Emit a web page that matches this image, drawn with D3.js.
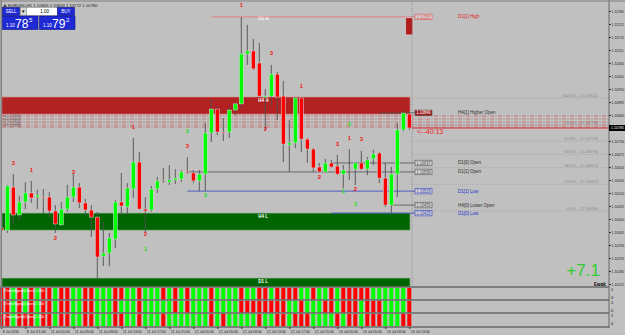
<!DOCTYPE html>
<html>
<head>
<meta charset="utf-8">
<script src="https://cdn.jsdelivr.net/npm/d3@7"></script>
<style>
  body { margin: 0; background: #c0c0c0; }
  svg { display: block; font-family: "Liberation Sans", Arial, sans-serif; }
</style>
</head>
<body>
<div class="chart"></div>
<script>
// EURUSD H1 bars, 8 Jul 17:00 .. 13 Jul 13:00
var opens = [1.10362,1.10353,1.10535,1.10417,1.10472,1.10510,1.10493,1.10493,1.10493,1.10434,
  1.10375,1.10442,1.10493,1.10535,1.10468,1.10438,1.10408,1.10243,1.10256,1.10315,
  1.10472,1.10451,1.10527,1.10641,1.10442,1.10438,1.10527,1.10561,1.10556,1.10565,
  1.10569,1.10599,1.10595,1.10561,1.10590,1.10764,1.10865,1.10768,1.10768,1.10861,
  1.10887,1.11098,1.11111,1.11060,1.10916,1.10920,1.11013,1.10920,1.10713,1.10722,
  1.10912,1.10738,1.10696,1.10620,1.10599,1.10637,1.10624,1.10590,1.10611,1.10611,
  1.10637,1.10611,1.10654,1.10679,1.10573,1.10459,1.10590,1.10777,1.10844];
var highs = [1.10468,1.10544,1.10590,1.10497,1.10556,1.10561,1.10523,1.10527,1.10514,1.10459,
  1.10472,1.10544,1.10590,1.10552,1.10485,1.10459,1.10430,1.10387,1.10341,1.10480,
  1.10595,1.10552,1.10743,1.10683,1.10493,1.10540,1.10578,1.10616,1.10628,1.10611,
  1.10607,1.10662,1.10607,1.10607,1.10806,1.10908,1.10874,1.10827,1.10874,1.10895,
  1.11255,1.11221,1.11162,1.11145,1.10950,1.11052,1.11022,1.10984,1.10819,1.10916,
  1.10916,1.10743,1.10700,1.10637,1.10654,1.10650,1.10671,1.10628,1.10696,1.10641,
  1.10688,1.10662,1.10692,1.10683,1.10637,1.10620,1.10806,1.10861,1.10848];
var lows = [1.10298,1.10341,1.10383,1.10391,1.10442,1.10468,1.10442,1.10421,1.10408,1.10341,
  1.10366,1.10430,1.10472,1.10446,1.10417,1.10324,1.10146,1.10201,1.10201,1.10277,
  1.10417,1.10417,1.10489,1.10438,1.10341,1.10430,1.10510,1.10552,1.10544,1.10548,
  1.10556,1.10590,1.10552,1.10518,1.10518,1.10726,1.10755,1.10730,1.10743,1.10840,
  1.10870,1.11052,1.11030,1.10916,1.10777,1.10882,1.10819,1.10641,1.10599,1.10700,
  1.10683,1.10637,1.10599,1.10595,1.10595,1.10616,1.10586,1.10531,1.10565,1.10544,
  1.10607,1.10586,1.10628,1.10552,1.10451,1.10425,1.10493,1.10772,1.10777];
var closes = [1.10353,1.10540,1.10417,1.10472,1.10510,1.10489,1.10501,1.10489,1.10434,1.10379,
  1.10442,1.10493,1.10535,1.10468,1.10438,1.10408,1.10239,1.10256,1.10320,1.10472,
  1.10455,1.10531,1.10641,1.10442,1.10434,1.10527,1.10561,1.10560,1.10565,1.10573,
  1.10599,1.10595,1.10561,1.10590,1.10764,1.10865,1.10768,1.10764,1.10861,1.10887,
  1.11098,1.11111,1.11035,1.10920,1.10920,1.11013,1.10916,1.10717,1.10722,1.10912,
  1.10738,1.10696,1.10616,1.10599,1.10637,1.10620,1.10590,1.10607,1.10609,1.10637,
  1.10611,1.10650,1.10675,1.10573,1.10459,1.10590,1.10777,1.10848,1.10785];

var timeIdx = [0,4,8,12,16,20,24,28,32,36,40,44,48,52,56,60,64,68];
var timeLabels = ["8 Jul 2016","8 Jul 21:00","11 Jul 01:00","11 Jul 05:00","11 Jul 09:00","11 Jul 13:00",
  "11 Jul 17:00","11 Jul 21:00","12 Jul 01:00","12 Jul 05:00","12 Jul 09:00","12 Jul 13:00",
  "12 Jul 17:00","12 Jul 21:00","13 Jul 01:00","13 Jul 05:00","13 Jul 09:00","13 Jul 13:00"];

var priceTicks = [1.11280,1.11225,1.11170,1.11115,1.11060,1.11005,1.10950,1.10895,1.10840,
  1.10730,1.10675,1.10620,1.10565,1.10510,1.10455,1.10400,1.10345,1.10290,1.10235,1.10180,1.10125];
var bidPrice = 1.10785;

// indicator sub windows, one letter per bar (g = up, r = down)
var signalNames = ["#TrendSignal(Open) 2.000", "#TrendSignal(Open) 2.000", "#TrendSignal(Open) 2.000"];
var signalRows = [
  "rrgrgrgrrgrrggrrgggrrggrgggrgrgrgggrggggrggrrgrrrrggrggrgrrrrrgggggg",
  "rrgrgrgrrgrrggrrgggrgggrgggggrgrgggrggggrrrrrrrrggrgggrrgrrrgrrrgggg",
  "rrgrrrgrrgrrggrrgggrrggrgggrgggggggrgrgggggrggrrgrrrggggrgrrgrrrgggr"
];

// zones (high / low bands)
var zoneNames = ["H4 H", "H4 L", "D1 L"];
var zoneTops = [1.10916, 1.10425, 1.10150];
var zoneBottoms = [1.10844, 1.10353, 1.10112];
var zoneKinds = ["high", "low", "low"];

// levels drawn to the right with labels
var levelNames = ["D1[1] High", "H4[1] Higher Open", "D1[0] Open", "D1[1] Open", "D1[1] Low", "H4[0] Lower Open", "D1[0] Low"];
var levelPrices = [1.11255, 1.10849, 1.10637, 1.10599, 1.10518, 1.10459, 1.10425];
var levelStart = [35, 63, 55, 31, 31, 65, 55];
var levelKinds = ["high", "open", "open", "open", "low", "open", "low"];

// fibo retracement levels
var fiboNames = ["100.0%", "76.4%", "61.8%", "50.0%", "38.2%", "23.6%", "0.0%"];
var fiboPrices = [1.10912, 1.10799, 1.10729, 1.10673, 1.10617, 1.10547, 1.10434];

// dashed level lines crossing the whole chart
var dashPrices = [1.10836, 1.10823, 1.10810, 1.10798, 1.10789];
var dashNames = ["Lvl 1 (1.10836)", "Lvl 2 (1.10823)", "Lvl 3 (1.10810)", "Lvl 4 (1.10798)", "Lvl 5 (1.10789)"];

// swing counts
var markIdx = [2,5,12,9,22,31,24,40,45,50,44,56,58,60,53,59, 31,34,24,58,57,59];
var markPrice = [1.10637,1.10607,1.10599,1.10320,1.10789,1.10709,1.10337,1.11305,1.11102,1.10963,1.10781,
  1.10717,1.10743,1.10738,1.10578,1.10527, 1.10772,1.10501,1.10273,1.10802,1.10518,1.10463];
var markText = ["3","1","3","2","1","3","2","1","3","1","2","3","1","3","2","2", "2","3","1","2","1","3"];
var markUp = [0,0,0,0,0,0,0,0,0,0,0,0,0,0,0,0, 1,1,1,1,1,1];

var svgWidth = 625;
var svgHeight = 335;
var plotLeft = 2, axisX = 609;
var mainTop = 2, mainBottom = 287;

var svg = d3.select(".chart").append("svg")
  .attr("width", svgWidth)
  .attr("height", svgHeight);

svg.append("rect").attr("width", svgWidth).attr("height", svgHeight).attr("fill", "#c0c0c0");

var x = d3.scaleLinear().domain([0, 68]).range([1.3, 409.3]);
var y = d3.scaleLinear().domain([1.10125, 1.11280]).range([284, 11]);

svg.append("clipPath").attr("id", "mainClip")
  .append("rect").attr("x", plotLeft).attr("y", mainTop)
  .attr("width", axisX - plotLeft).attr("height", mainBottom - mainTop);

var main = svg.append("g").attr("clip-path", "url(#mainClip)");

// zones
zoneNames.forEach(function(name, i) {
  main.append("rect")
    .attr("x", plotLeft).attr("y", y(zoneTops[i]))
    .attr("width", 410 - plotLeft).attr("height", y(zoneBottoms[i]) - y(zoneTops[i]))
    .attr("fill", zoneKinds[i] === "high" ? "#b22222" : "#006400")
    .attr("stroke", zoneKinds[i] === "high" ? "#d08080" : "#80b080")
    .attr("stroke-width", 0.6);
  main.append("text")
    .attr("x", x(43) - 1).attr("y", y(zoneTops[i]) + 4.5)
    .attr("fill", "#ffffff").attr("font-size", 4.5).attr("font-weight", "bold")
    .text(name);
});
main.append("text").attr("x", x(43) - 1).attr("y", y(1.11255) + 3.5)
  .attr("fill", "#ffffff").attr("font-size", 4.5).attr("font-weight", "bold").text("D1 H");

// fibo lines
fiboPrices.forEach(function(p, i) {
  main.append("line")
    .attr("x1", 412).attr("x2", axisX).attr("y1", y(p)).attr("y2", y(p))
    .attr("stroke", "#9a9a9a").attr("stroke-width", 0.6).attr("stroke-dasharray", "1,1");
  main.append("text")
    .attr("x", 598).attr("y", y(p) - 1).attr("text-anchor", "end")
    .attr("fill", "#8a8a8a").attr("font-size", 4.2)
    .text(`${fiboNames[i]} - (${p.toFixed(5)})`);
});

// dashed levels
dashPrices.forEach(function(p, i) {
  main.append("line")
    .attr("x1", plotLeft).attr("x2", axisX).attr("y1", y(p)).attr("y2", y(p))
    .attr("stroke", i % 2 ? "#c06060" : "#d04848").attr("stroke-width", 0.7)
    .attr("stroke-dasharray", "4,1.5,1,1.5");
});
main.append("text")
  .attr("x", 3).attr("y", y(dashPrices[0]) + 1)
  .attr("fill", "#6a5050").attr("font-size", 2.6)
  .selectAll("tspan").data(dashNames).enter().append("tspan")
  .attr("x", 3).attr("dy", (d, i) => i ? 2.6 : 0)
  .text(d => d);

// levels
levelPrices.forEach(function(p, i) {
  var col = levelKinds[i] === "high" ? "#e05050" : (levelKinds[i] === "low" ? "#3040c0" : "#505050");
  main.append("line")
    .attr("x1", x(levelStart[i])).attr("x2", 415).attr("y1", y(p)).attr("y2", y(p))
    .attr("stroke", levelKinds[i] === "high" ? "#f07070" : col).attr("stroke-width", 0.8);
  main.append("rect")
    .attr("x", 415).attr("y", y(p) - 2.8).attr("width", 17).attr("height", 5.6)
    .attr("fill", i === 1 ? "#a02020" : "#d0d0d0")
    .attr("stroke", col).attr("stroke-width", 0.6);
  main.append("text")
    .attr("x", 416.5).attr("y", y(p) + 1.6)
    .attr("textLength", 14).attr("lengthAdjust", "spacingAndGlyphs")
    .attr("fill", i === 1 ? "#ffffff" : col).attr("font-size", 4.5)
    .text(p.toFixed(5));
  main.append("text")
    .attr("x", 458).attr("y", y(p) + 1.5)
    .attr("fill", levelKinds[i] === "high" ? "#e02020" : (levelKinds[i] === "low" ? "#2030d0" : "#303030"))
    .attr("font-size", 4.5)
    .text(levelNames[i]);
});

// bid line
main.append("line")
  .attr("x1", 412).attr("x2", axisX).attr("y1", y(bidPrice)).attr("y2", y(bidPrice))
  .attr("stroke", "#e02020").attr("stroke-width", 0.9);

// shift separator
svg.append("line")
  .attr("x1", 412).attr("x2", 412).attr("y1", mainTop).attr("y2", mainBottom)
  .attr("stroke", "#707070").attr("stroke-width", 0.6).attr("stroke-dasharray", "1,1");

// projected D1 box
main.append("rect")
  .attr("x", x(68) - 3.5).attr("y", y(1.11251)).attr("width", 7)
  .attr("height", y(1.11179) - y(1.11251))
  .attr("fill", "#b01c1c").attr("stroke", "#e0e0e0").attr("stroke-width", 0.5);

// candles
var bars = d3.range(opens.length);
main.selectAll(".wick").data(bars).enter().append("line")
  .attr("class", "wick")
  .attr("x1", d => x(d)).attr("x2", d => x(d))
  .attr("y1", d => y(highs[d])).attr("y2", d => y(lows[d]))
  .attr("stroke", "#505050").attr("stroke-width", 0.9);

main.selectAll(".body").data(bars).enter().append("rect")
  .attr("class", "body")
  .attr("x", d => x(d) - 2)
  .attr("width", 4)
  .attr("y", d => y(Math.max(opens[d], closes[d])))
  .attr("height", d => Math.max(1, Math.abs(y(opens[d]) - y(closes[d]))))
  .attr("fill", function(d) {
    if (Math.abs(opens[d] - closes[d]) < 0.00003) return closes[d] >= opens[d] ? "#207020" : "#702020";
    return closes[d] >= opens[d] ? "#00ff00" : "#ff0000";
  })
  .attr("stroke", "#d8e4e4").attr("stroke-width", 0.5);

// swing counts
main.selectAll(".mark").data(markIdx).enter().append("text")
  .attr("class", "mark")
  .attr("x", (d, i) => x(d))
  .attr("y", (d, i) => y(markPrice[i]) + 2)
  .attr("text-anchor", "middle")
  .attr("font-size", 6).attr("font-weight", "bold")
  .attr("fill", (d, i) => markUp[i] ? "#20e020" : "#f01818")
  .text((d, i) => markText[i]);

// countdown
main.append("text").attr("x", 417).attr("y", y(bidPrice) + 6)
  .attr("fill", "#f02020").attr("font-size", 7).text("<--40:13");

// big result
svg.append("text").attr("x", 600).attr("y", 276).attr("text-anchor", "end")
  .attr("fill", "#30cc30").attr("font-size", 17).text("+7.1");
svg.append("text").attr("x", 594).attr("y", 286)
  .attr("fill", "#000").attr("font-size", 4.5).attr("font-weight", "bold").text("Ewqk");

// sub windows
var panelTops = [288, 301, 314];
var panelH = 12;
signalRows.forEach(function(row, r) {
  var g = svg.append("g");
  g.selectAll("rect").data(bars).enter().append("rect")
    .attr("x", d => x(d) - 2).attr("width", 4)
    .attr("y", panelTops[r]).attr("height", panelH)
    .attr("fill", d => row[d] === "g" ? "#00ff00" : "#ff0000");
  g.append("text").attr("x", 3).attr("y", panelTops[r] + 4)
    .attr("font-size", 3.5).attr("fill", "#ffffff").text(signalNames[r]);
  svg.append("text").attr("x", 611).attr("y", panelTops[r] + 3).attr("font-size", 4).text("1");
  svg.append("text").attr("x", 611).attr("y", panelTops[r] + 11).attr("font-size", 4).text("0");
});
[287, 300, 313, 327].forEach(function(py) {
  svg.append("line").attr("x1", 0).attr("x2", axisX).attr("y1", py).attr("y2", py)
    .attr("stroke", "#6a6a6a").attr("stroke-width", 1.6);
});

// price axis
svg.append("line").attr("x1", axisX).attr("x2", axisX).attr("y1", 0).attr("y2", 328)
  .attr("stroke", "#505050").attr("stroke-width", 0.8);
var rightAxis = d3.axisRight(y).tickValues(priceTicks).tickSize(2).tickFormat(d3.format(".5f"));
var yAxis = svg.append("g").attr("transform", `translate(${axisX},0)`).call(rightAxis);
yAxis.select(".domain").remove();
yAxis.selectAll("text").attr("font-size", 3.5).attr("fill", "#202020").attr("x", 2.5);
yAxis.selectAll("line").attr("stroke", "#303030");

svg.append("rect").attr("x", 609).attr("y", y(bidPrice) - 3).attr("width", 16).attr("height", 6).attr("fill", "#000");
svg.append("text").attr("x", 611).attr("y", y(bidPrice) + 1.4).attr("fill", "#fff").attr("font-size", 3.6)
  .text(bidPrice.toFixed(5));

// time axis
var bottomAxis = d3.axisBottom(x).tickValues(timeIdx).tickSize(2)
  .tickFormat((d, i) => timeLabels[i]);
var xAxis = svg.append("g").attr("transform", "translate(0,327)").call(bottomAxis);
xAxis.select(".domain").remove();
xAxis.selectAll("text").attr("font-size", 4.2).attr("fill", "#202020")
  .attr("text-anchor", "start").attr("dx", 1).attr("y", 3.5)
  .attr("textLength", d => d === 0 ? 16 : 19).attr("lengthAdjust", "spacingAndGlyphs");
xAxis.selectAll("line").attr("stroke", "#303030");

// frame
svg.append("rect").attr("x", 0.5).attr("y", 0.5).attr("width", 1.5).attr("height", 328)
  .attr("fill", "#808080");
svg.append("line").attr("x1", 0).attr("x2", svgWidth).attr("y1", 1).attr("y2", 1)
  .attr("stroke", "#808080").attr("stroke-width", 1.2);

// header and one click panel
svg.append("text").attr("x", 8).attr("y", 7).attr("font-size", 4.2).attr("fill", "#202020")
  .text("EURUSD,H1  1.10845 1.10844 1.10772 1.10780");
svg.append("path").attr("d", "M3,7 L5,4 L7,7 Z").attr("fill", "#404040");

var panel = svg.append("g");
panel.append("rect").attr("x", 2.5).attr("y", 7.5).attr("width", 17).attr("height", 8)
  .attr("fill", "#1f2ad4").attr("stroke", "#0c1280").attr("stroke-width", 0.6);
panel.append("text").attr("x", 11).attr("y", 13).attr("text-anchor", "middle")
  .attr("fill", "#fff").attr("font-size", 4.5).text("SELL");
panel.append("rect").attr("x", 20.5).attr("y", 7.5).attr("width", 6).attr("height", 8)
  .attr("fill", "#d8d8d8").attr("stroke", "#808080").attr("stroke-width", 0.5);
panel.append("text").attr("x", 23.5).attr("y", 13).attr("text-anchor", "middle")
  .attr("font-size", 4.5).text("▾");
panel.append("rect").attr("x", 26.5).attr("y", 7.5).attr("width", 31).attr("height", 8)
  .attr("fill", "#ffffff").attr("stroke", "#808080").attr("stroke-width", 0.5);
panel.append("text").attr("x", 49).attr("y", 13).attr("text-anchor", "end")
  .attr("font-size", 4.5).text("1.00");
panel.append("rect").attr("x", 57.5).attr("y", 7.5).attr("width", 17).attr("height", 8)
  .attr("fill", "#1f2ad4").attr("stroke", "#0c1280").attr("stroke-width", 0.6);
panel.append("text").attr("x", 66).attr("y", 13).attr("text-anchor", "middle")
  .attr("fill", "#fff").attr("font-size", 4.5).text("BUY");

var quotes = [["1.10", "78", "5"], ["1.10", "79", "2"]];
quotes.forEach(function(q, i) {
  var qx = 2 + i * 37;
  panel.append("rect").attr("x", qx + 0.5).attr("y", 16).attr("width", 35.5).attr("height", 13.5)
    .attr("fill", "#1f2ad4").attr("stroke", "#0c1280").attr("stroke-width", 0.6);
  panel.append("text").attr("x", qx + 4).attr("y", 27).attr("fill", "#fff")
    .attr("font-size", 4.5).text(q[0]);
  panel.append("text").attr("x", qx + 13).attr("y", 28).attr("fill", "#fff")
    .attr("font-size", 12).text(q[1]);
  panel.append("text").attr("x", qx + 27).attr("y", 22).attr("fill", "#fff")
    .attr("font-size", 6).text(q[2]);
});
</script>
</body>
</html>
